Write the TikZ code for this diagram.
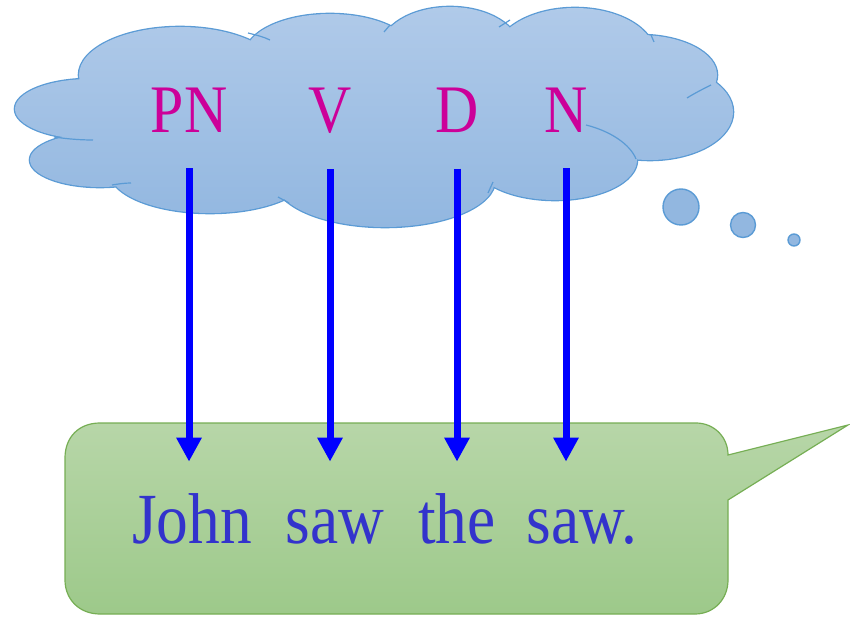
\documentclass[tikz,border=0pt]{standalone}
\usepackage{fontspec}
\usetikzlibrary{arrows.meta,positioning}
\newfontfamily\tagfont[FakeStretch=0.88]{Liberation Serif}
\definecolor{cloudline}{RGB}{91,155,213}
\definecolor{cloudtop}{RGB}{176,202,233}
\definecolor{cloudbot}{RGB}{146,183,224}
\definecolor{boxline}{RGB}{118,174,84}
\definecolor{boxtop}{RGB}{183,214,168}
\definecolor{boxbot}{RGB}{157,201,138}
\definecolor{tagpink}{RGB}{204,0,153}
\definecolor{wordblue}{RGB}{51,51,204}
\tikzset{
  tag/.style={tagpink,inner sep=0pt,anchor=base,font=\tagfont\fontsize{34}{34}\selectfont},
  word/.style={wordblue,inner sep=0pt,anchor=base,font=\tagfont\fontsize{36}{36}\selectfont},
  maparrow/.style={blue,line width=3.5pt,-{Triangle[width=12pt,length=12pt]}},
  bubble/.style={circle,inner sep=0pt,fill=cloudbot,draw=cloudline,line width=0.7pt}
}
\def\cloudshape{(90,507) ellipse [x radius=75,y radius=30]
  (100,456) ellipse [x radius=70,y radius=27]
  (180,541) ellipse [x radius=101,y radius=48]
  (330,561) ellipse [x radius=85,y radius=41]
  (450,566) ellipse [x radius=70,y radius=43]
  (575,561) ellipse [x radius=80,y radius=47]
  (640,541) ellipse [x radius=77,y radius=40]
  (650,504) ellipse [x radius=83,y radius=48]
  (555,456) ellipse [x radius=82,y radius=40]
  (385,436) ellipse [x radius=110,y radius=47]
  (210,444) ellipse [x radius=100,y radius=41]
  (380,506) ellipse [x radius=290,y radius=75]}

\begin{document}
\begin{tikzpicture}[x=0.5pt,y=0.5pt]
\useasboundingbox (0,0) rectangle (850,616);
% thought cloud
\draw[cloudline,line width=1.3pt] \cloudshape;
\shade[top color=cloudtop,bottom color=cloudbot] \cloudshape;
\draw[cloudline,line width=0.6pt]
  (586,491) .. controls (610,485) and (630,472) .. (636,457)
  (54,479) .. controls (68,477) and (80,476) .. (93,476)
  (112,431) .. controls (118,432) and (125,433) .. (131,433)
  (248,583) .. controls (256,581) and (264,579) .. (270,576)
  (384,584) -- (390,591)
  (499,589) -- (510,596)
  (651,581) -- (654,574)
  (687,518) .. controls (695,523) and (703,527) .. (711,531)
  (278,419) -- (289,413)
  (493,434) -- (488,423);
\node[bubble,minimum size=18pt] (b1) at (681,409) {};
\node[bubble,minimum size=12.5pt] (b2) at (743,391) {};
\node[bubble,minimum size=6pt] (b3) at (794,376) {};
% speech box
\shade[top color=boxtop,bottom color=boxbot,draw=boxline,line width=0.6pt]
  (65,158) .. controls (65,179) and (79,193) .. (100,193) -- (696,193)
  .. controls (714,193) and (728,179) .. (728,161) -- (848,191) -- (728,116)
  -- (728,36) .. controls (728,17) and (714,2) .. (695,2) -- (100,2)
  .. controls (79,2) and (65,17) .. (65,36) -- cycle;
% tags
\node[tag] (pn) at (189,483) {PN};
\node[tag] (v) at (330,483) {V};
\node[tag] (d) at (457,483) {D};
\node[tag] (n) at (566,483) {N};
% words
\node[word] (john) at (192,73) {John};
\node[word] (saw) at (335,73) {saw};
\node[word] (the) at (457,73) {the};
\node[word] (saw2) at (582,73) {saw.};
% mapping
\draw[maparrow,shorten <=17.5pt,shorten >=15.5pt] (pn.south) -- (pn.south |- john.north);
\draw[maparrow,shorten <=17.5pt,shorten >=15.5pt] (v.south) -- (v.south |- john.north);
\draw[maparrow,shorten <=17.5pt,shorten >=15.5pt] (d.south) -- (d.south |- john.north);
\draw[maparrow,shorten <=17.5pt,shorten >=15.5pt] (n.south) -- (n.south |- john.north);
\end{tikzpicture}
\end{document}
